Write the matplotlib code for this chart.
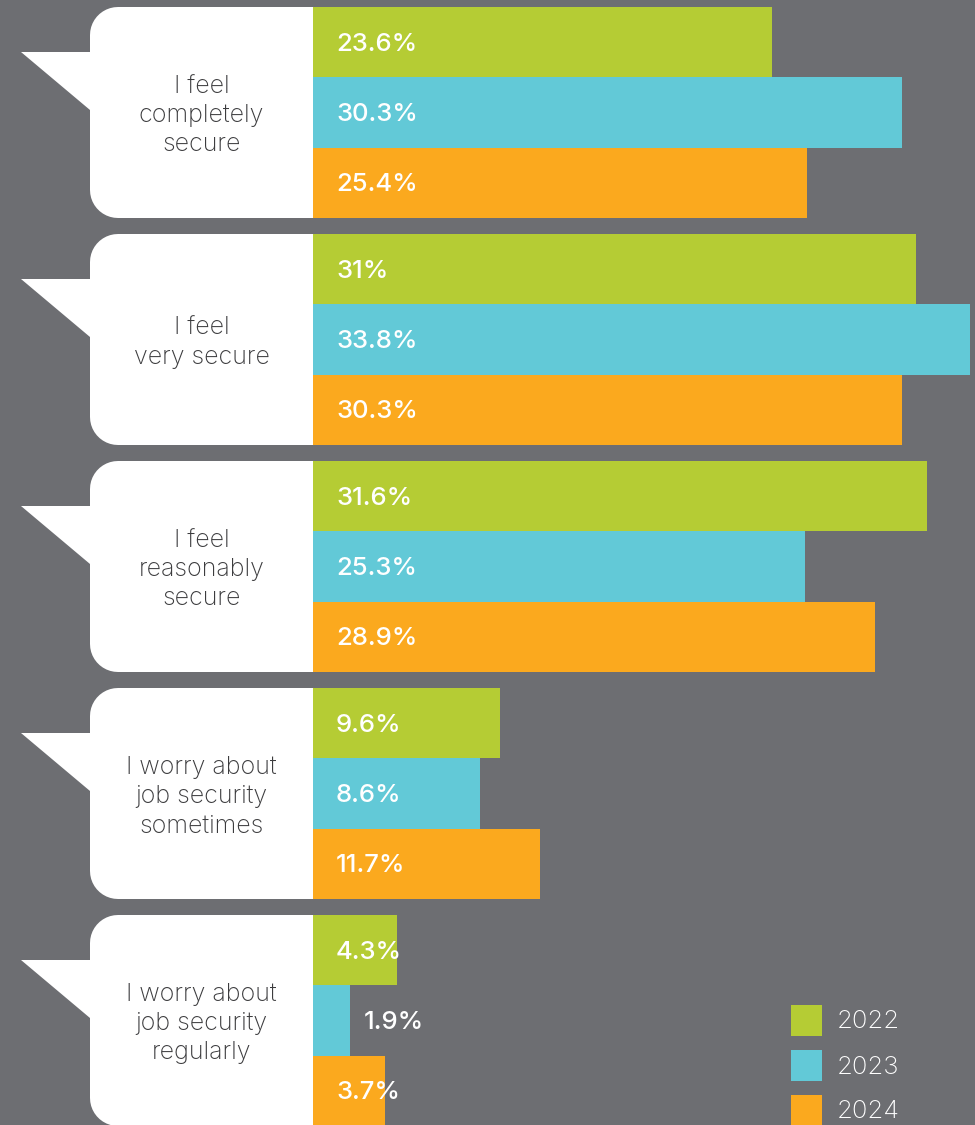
import numpy as np
import matplotlib
matplotlib.use('Agg')
import matplotlib.pyplot as plt
from matplotlib.patches import Polygon, Rectangle

# data
categories = ['I feel\ncompletely\nsecure',
              'I feel\nvery secure',
              'I feel\nreasonably\nsecure',
              'I worry about\njob security\nsometimes',
              'I worry about\njob security\nregularly']
years = ['2022', '2023', '2024']
v2022 = [23.6, 31.0, 31.6, 9.6, 4.3]
v2023 = [30.3, 33.8, 25.3, 8.6, 1.9]
v2024 = [25.4, 30.3, 28.9, 11.7, 3.7]
labels2022 = ['23.6%', '31%', '31.6%', '9.6%', '4.3%']
labels2023 = ['30.3%', '33.8%', '25.3%', '8.6%', '1.9%']
labels2024 = ['25.4%', '30.3%', '28.9%', '11.7%', '3.7%']

series = [v2022, v2023, v2024]
series_labels = [labels2022, labels2023, labels2024]
colors = ['#b5cc34', '#62c9d7', '#fba91e']
bg = '#6d6e72'

plt.rcParams['font.family'] = ['Inter', 'DejaVu Sans']

W, H = 975, 1125
fig = plt.figure(figsize=(W / 100, H / 100), dpi=100, facecolor=bg)

# pixel overlay for bubbles + legend
ov = fig.add_axes([0, 0, 1, 1])
ov.set_xlim(0, W)
ov.set_ylim(H, 0)
ov.axis('off')

x0 = 313          # bar baseline in px
px_per_pct = 19.44
group_top0 = 7
group_step = 227
group_h = 211
bar_h = group_h / 3

ax = fig.add_axes([x0 / W, 0, (W - x0) / W, 1])
ax.set_xlim(0, (W - x0) / px_per_pct)
ax.set_ylim(H, 0)
ax.axis('off')
ax.patch.set_alpha(0)


def bubble(top, bottom, left=90, right=x0, r=28):
    pts = [(right, top), (left + r, top)]
    for a in np.linspace(np.pi / 2, np.pi, 12):
        pts.append((left + r + r * np.cos(a), top + r - r * np.sin(a)))
    pts += [(left, top + 45), (21, top + 45), (left, top + 103)]
    for a in np.linspace(np.pi, 1.5 * np.pi, 12):
        pts.append((left + r + r * np.cos(a), bottom - r - r * np.sin(a)))
    pts.append((right, bottom))
    return Polygon(pts, closed=True, facecolor='white', edgecolor='none')


for i, cat in enumerate(categories):
    top = group_top0 + i * group_step
    ov.add_patch(bubble(top, top + group_h))
    ov.text(201.5, top + group_h / 2 + 3, cat, ha='center', va='center',
            fontsize=18, color='#3c3c3e', linespacing=1.36, fontweight='light')
    for k in range(3):
        yc = top + bar_h * (k + 0.5)
        val = series[k][i]
        ax.barh(yc, val, height=bar_h, color=colors[k], linewidth=0)
        if val * px_per_pct < 70:
            tx = val + 14 / px_per_pct
        else:
            tx = 23 / px_per_pct
        ax.text(tx, yc + 2, series_labels[k][i], ha='left', va='center',
                fontsize=18.5, color='white', fontweight='medium')

# legend
for k, yr in enumerate(years):
    ly = 1005 + k * 45
    ov.add_patch(Rectangle((791, ly), 31, 31, facecolor=colors[k], edgecolor='none'))
    ov.text(837, ly + 17, yr, ha='left', va='center', fontsize=18.5,
            color='white', fontweight='light')

fig.savefig('out.png', dpi=100, facecolor=bg)
